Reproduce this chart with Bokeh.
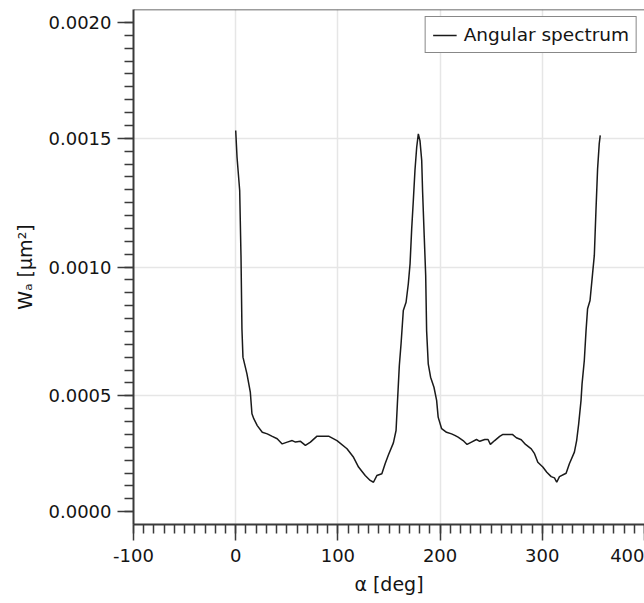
from bokeh.plotting import figure
from bokeh.models import (Range1d, SingleIntervalTicker, FixedTicker,
                          CustomJSTickFormatter, Span)
from bokeh.embed import file_html
from bokeh.resources import INLINE

# Angle [deg] and angular spectrum W_a [um^2]
angle_deg = [0.0, 1.3, 3.9, 5.2, 6.1, 7.1, 11.0, 14.3, 15.9, 17.8, 21.1, 26.0,
             30.9, 35.8, 40.6, 45.5, 50.4, 55.3, 58.5, 63.4, 68.2, 73.1, 79.6,
             90.9, 99.1, 108.9, 115.3, 120.2, 126.7, 131.6, 134.8, 138.1,
             143.0, 146.2, 149.4, 154.3, 156.9, 158.2, 160.1, 161.8, 164.0,
             166.7, 168.9, 170.6, 172.2, 173.8, 175.4, 177.1, 178.7, 180.3,
             182.0, 182.9, 184.5, 185.9, 186.8, 188.4, 190.7, 194.0, 196.6,
             198.1, 201.5, 206.3, 211.2, 214.4, 217.6, 222.5, 226.4, 230.7,
             235.6, 238.8, 243.7, 246.9, 249.2, 253.4, 258.3, 261.5, 270.7,
             274.6, 279.4, 283.6, 289.2, 292.4, 295.6, 300.5, 304.4, 308.7,
             311.9, 314.1, 316.8, 323.3, 326.5, 331.4, 333.6, 335.6, 337.9,
             338.9, 341.1, 342.8, 344.3, 346.7, 349.2, 350.9, 352.5, 354.1,
             355.7, 356.7]
spectrum_e3 = [1.530, 1.426, 1.297, 1.038, 0.760, 0.650, 0.585, 0.514, 0.430,
               0.410, 0.384, 0.358, 0.352, 0.342, 0.333, 0.313, 0.320, 0.326,
               0.320, 0.323, 0.307, 0.320, 0.343, 0.343, 0.326, 0.294, 0.261,
               0.223, 0.190, 0.171, 0.164, 0.190, 0.197, 0.236, 0.270, 0.317,
               0.365, 0.469, 0.617, 0.702, 0.831, 0.863, 0.935, 1.012, 1.148,
               1.258, 1.375, 1.465, 1.517, 1.491, 1.414, 1.290, 1.116, 0.967,
               0.753, 0.624, 0.572, 0.533, 0.482, 0.417, 0.372, 0.358, 0.352,
               0.346, 0.339, 0.326, 0.311, 0.320, 0.330, 0.323, 0.330, 0.330,
               0.311, 0.326, 0.342, 0.350, 0.350, 0.337, 0.329, 0.311, 0.294,
               0.275, 0.242, 0.223, 0.203, 0.186, 0.181, 0.164, 0.186, 0.199,
               0.236, 0.281, 0.326, 0.391, 0.482, 0.546, 0.637, 0.753, 0.838,
               0.870, 0.974, 1.045, 1.219, 1.381, 1.478, 1.511]
spectrum = [v * 1e-3 for v in spectrum_e3]

series_name = "Angular spectrum"
x_label = "α [deg]"
y_label = "Wₐ [µm²]"
# y ticks as drawn in the reference (end ticks sit one minor step inside)
y_tick_pos = [0.00005, 0.0005, 0.0010, 0.0015, 0.00195]
y_grid_pos = [0.0005, 0.0010, 0.0015]
y_minor_pos = [round(i * 0.00005, 6) for i in range(1, 40)]

FONT = "DejaVu Sans"
AX = "#3a3a3a"
TXT = "#141414"

p = figure(frame_width=511, frame_height=515,
           min_border_left=133, min_border_right=0,
           min_border_top=9, min_border_bottom=79,
           x_range=Range1d(-100, 400), y_range=Range1d(0, 0.002),
           output_backend="svg", toolbar_location=None)
p.background_fill_color = "white"
p.border_fill_color = "white"
p.outline_line_color = None

p.line(angle_deg, spectrum, line_color="#1a1a1a", line_width=1.5,
       legend_label=series_name)

p.add_layout(Span(location=0.002, dimension="width",
                  line_color=AX, line_width=1.5))

# axes
for ax in (p.xaxis[0], p.yaxis[0]):
    ax.axis_line_color = AX
    ax.axis_line_width = 2
    ax.major_tick_line_color = AX
    ax.minor_tick_line_color = AX
    ax.major_tick_line_width = 1.5
    ax.minor_tick_line_width = 1.5
    ax.major_tick_in = 0
    ax.major_tick_out = 16
    ax.minor_tick_in = 0
    ax.minor_tick_out = 9
    ax.major_label_text_font = FONT
    ax.major_label_text_font_size = "18px"
    ax.major_label_text_color = TXT
    ax.axis_label_text_font = FONT
    ax.axis_label_text_font_size = "19px"
    ax.axis_label_text_font_style = "normal"
    ax.axis_label_text_color = TXT

p.xaxis.ticker = SingleIntervalTicker(interval=100, num_minor_ticks=10)
p.xaxis.formatter = CustomJSTickFormatter(code="return tick.toFixed(0);")
p.xaxis.major_label_standoff = 8
p.xaxis.axis_label = x_label
p.xaxis.axis_label_standoff = 8

p.yaxis.ticker = FixedTicker(ticks=y_tick_pos, minor_ticks=y_minor_pos)
p.yaxis.formatter = CustomJSTickFormatter(
    code="return (Math.round(tick/0.0005)*0.0005).toFixed(4);")
p.yaxis.major_label_standoff = 6
p.yaxis.axis_label = y_label
p.yaxis.axis_label_standoff = 10

# grid
p.xgrid.ticker = SingleIntervalTicker(interval=100)
p.ygrid.ticker = FixedTicker(ticks=y_grid_pos)
p.grid.grid_line_color = "#e6e6e6"
p.grid.grid_line_width = 1.5

# legend
lg = p.legend[0]
lg.location = "top_right"
lg.margin = 7
lg.padding = 7
lg.spacing = 0
lg.glyph_width = 24
lg.glyph_height = 20
lg.label_standoff = 7
lg.label_height = 20
lg.label_text_font = FONT
lg.label_text_font_size = "18.5px"
lg.label_text_color = TXT
lg.border_line_color = "#111111"
lg.border_line_width = 1.5
lg.background_fill_color = "white"
lg.background_fill_alpha = 1.0

open("out.html", "w").write(file_html(p, INLINE))
